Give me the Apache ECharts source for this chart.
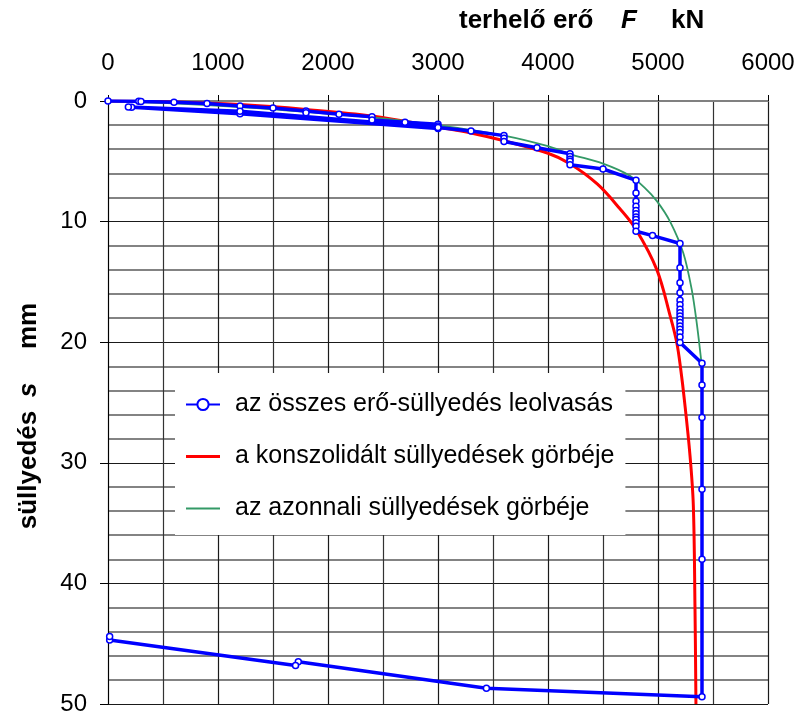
<!DOCTYPE html>
<html>
<head>
<meta charset="utf-8">
<script src="https://cdn.jsdelivr.net/npm/echarts@6/dist/echarts.min.js"></script>
<style>
  html, body { margin: 0; padding: 0; background: #fff; }
  #chart { width: 802px; height: 716px; }
</style>
</head>
<body>
<div id="chart"></div>
<script>
// Every load / settlement reading, in the order it was taken (kN, mm)
const readLoad = [
  0, 280, 300, 600, 900, 1200, 1500, 1800, 1800, 2100, 2400, 2400, 2700, 3000, 3000, 3000,
  1200, 215, 185,
  1200, 3000, 3300, 3600, 3600, 3600, 3900,
  4200, 4200, 4200, 4200, 4200, 4500,
  4800, 4800, 4800, 4800, 4800, 4800, 4800, 4800, 4800, 4800, 4800, 4950,
  5200, 5200, 5200, 5200, 5200, 5200, 5200, 5200, 5200, 5200, 5200, 5200, 5200, 5200, 5200, 5200,
  5400, 5400, 5400, 5400, 5400, 5400,
  3440, 1730, 1705, 15, 15
];
const readSettle = [
  0, 0.03, 0.05, 0.1, 0.2, 0.41, 0.58, 0.83, 0.97, 1.1, 1.3, 1.57, 1.76, 1.93, 2.07, 2.29,
  1.05, 0.52, 0.5,
  0.85, 2.2, 2.48, 2.87, 3.08, 3.36, 3.88,
  4.38, 4.6, 4.82, 5.0, 5.29, 5.64,
  6.58, 7.63, 8.32, 8.73, 9.07, 9.34, 9.61, 9.83, 10.1, 10.39, 10.8, 11.16,
  11.82, 13.83, 15.07, 15.9, 16.53, 16.9, 17.27, 17.55, 17.83, 18.1, 18.37, 18.65, 18.93, 19.2, 19.56, 20.03,
  21.74, 23.55, 26.25, 32.2, 38.0, 49.4,
  48.7, 46.5, 46.8, 44.7, 44.4
];

// Consolidated settlement curve
const consLoad   = [0, 600, 1200, 1800, 2400, 3000, 3300, 3600, 4000, 4200, 4450, 4650, 4800, 4990, 5110, 5170, 5206, 5240, 5291, 5321, 5336, 5345];
const consSettle = [0, 0.08, 0.3, 0.7, 1.24, 2.17, 2.65, 3.3, 4.33, 5.2, 6.9, 8.9, 10.65, 14.0, 17.8, 20.0, 22.2, 24.8, 29.4, 33.5, 41.8, 50];

// Immediate settlement curve
const instLoad   = [0, 600, 1200, 1500, 2400, 3000, 3600, 4000, 4200, 4500, 4745, 4880, 4990, 5110, 5230, 5306, 5352, 5395];
const instSettle = [0, 0.2, 0.5, 0.69, 1.35, 2.0, 2.87, 3.75, 4.4, 5.2, 6.2, 7.2, 8.3, 10.0, 12.6, 15.6, 18.4, 21.7];

const seriesNames = [
  'az összes erő-süllyedés leolvasás',
  'a konszolidált süllyedések görbéje',
  'az azonnali süllyedések görbéje'
];

const pairs = (xs, ys) => xs.map((x, i) => [x, ys[i]]);
const FONT = '"Liberation Sans", Arial, sans-serif';
const TITLE_FONT = 'bold 26px ' + FONT;
const TITLE_ITALIC = 'italic bold 26px ' + FONT;

const chart = echarts.init(document.getElementById('chart'), null, { renderer: 'canvas' });

chart.setOption({
  animation: false,
  backgroundColor: '#fff',
  grid: { left: 108, top: 101, width: 660, height: 605, containLabel: false },
  xAxis: {
    type: 'value',
    position: 'top',
    min: 0, max: 6000, interval: 1000,
    axisLine: { show: true, onZero: false, lineStyle: { color: '#808080', width: 2 } },
    axisTick: { show: true, inside: false, length: 6, lineStyle: { color: '#000', width: 1 } },
    axisLabel: { margin: 26, fontSize: 24, color: '#000', fontFamily: FONT, formatter: v => String(v) },
    splitLine: { show: true, lineStyle: { color: '#1a1a1a', width: 1.2 } },
    minorTick: { show: false, splitNumber: 2 },
    minorSplitLine: { show: true, lineStyle: { color: '#333', width: 1.2 } }
  },
  yAxis: {
    type: 'value',
    inverse: true,
    min: 0, max: 50, interval: 10,
    axisLine: { show: true, onZero: false, lineStyle: { color: '#000', width: 1 } },
    axisTick: { show: true, inside: false, length: 8, lineStyle: { color: '#000', width: 1 } },
    axisLabel: { margin: 21, fontSize: 24, color: '#000', fontFamily: FONT, formatter: v => String(v) },
    splitLine: { show: true, lineStyle: { color: '#1a1a1a', width: 1.2 } },
    minorTick: { show: false, splitNumber: 5 },
    minorSplitLine: { show: true, lineStyle: { color: '#5a5a5a', width: 1.6 } }
  },
  legend: {
    orient: 'vertical',
    left: 175, top: 373,
    backgroundColor: '#fff',
    padding: [19, 11, 14, 10],
    itemGap: 27,
    itemWidth: 34, itemHeight: 14,
    selectedMode: false,
    textStyle: { fontSize: 25, color: '#000', fontFamily: FONT, padding: [0, 0, 0, 10] },
    data: [
      { name: seriesNames[0] },
      { name: seriesNames[1], icon: 'path://M0,0H34V3H0Z' },
      { name: seriesNames[2], icon: 'path://M0,0H34V2H0Z' }
    ]
  },
  graphic: [
    { type: 'text', x: 459, y: 21, style: { text: 'terhelő erő', font: TITLE_FONT, fill: '#000', align: 'left', verticalAlign: 'middle' } },
    { type: 'text', x: 621, y: 21, style: { text: 'F', font: TITLE_ITALIC, fill: '#000', align: 'left', verticalAlign: 'middle' } },
    { type: 'text', x: 671, y: 21, style: { text: 'kN', font: TITLE_FONT, fill: '#000', align: 'left', verticalAlign: 'middle' } },
    { type: 'text', x: 29, y: 470, rotation: Math.PI / 2, style: { text: 'süllyedés', font: TITLE_FONT, fill: '#000', align: 'center', verticalAlign: 'middle' } },
    { type: 'text', x: 29, y: 390, rotation: Math.PI / 2, style: { text: 's', font: TITLE_ITALIC, fill: '#000', align: 'center', verticalAlign: 'middle' } },
    { type: 'text', x: 29, y: 326, rotation: Math.PI / 2, style: { text: 'mm', font: TITLE_FONT, fill: '#000', align: 'center', verticalAlign: 'middle' } }
  ],
  series: [
    {
      name: seriesNames[1],
      type: 'line',
      data: pairs(consLoad, consSettle),
      smooth: 0.35,
      symbol: 'none',
      lineStyle: { color: '#ff0000', width: 3 },
      itemStyle: { color: '#ff0000' },
      z: 2
    },
    {
      name: seriesNames[2],
      type: 'line',
      data: pairs(instLoad, instSettle),
      smooth: 0.3,
      symbol: 'none',
      lineStyle: { color: '#339966', width: 1.8 },
      itemStyle: { color: '#339966' },
      z: 3
    },
    {
      name: seriesNames[0],
      type: 'line',
      data: pairs(readLoad, readSettle),
      symbol: 'circle',
      symbolSize: 6,
      showAllSymbol: true,
      lineStyle: { color: '#0000ff', width: 3.5 },
      itemStyle: { color: '#ffffff', borderColor: '#0000ff', borderWidth: 1.5 },
      z: 4
    }
  ]
});
</script>
</body>
</html>
